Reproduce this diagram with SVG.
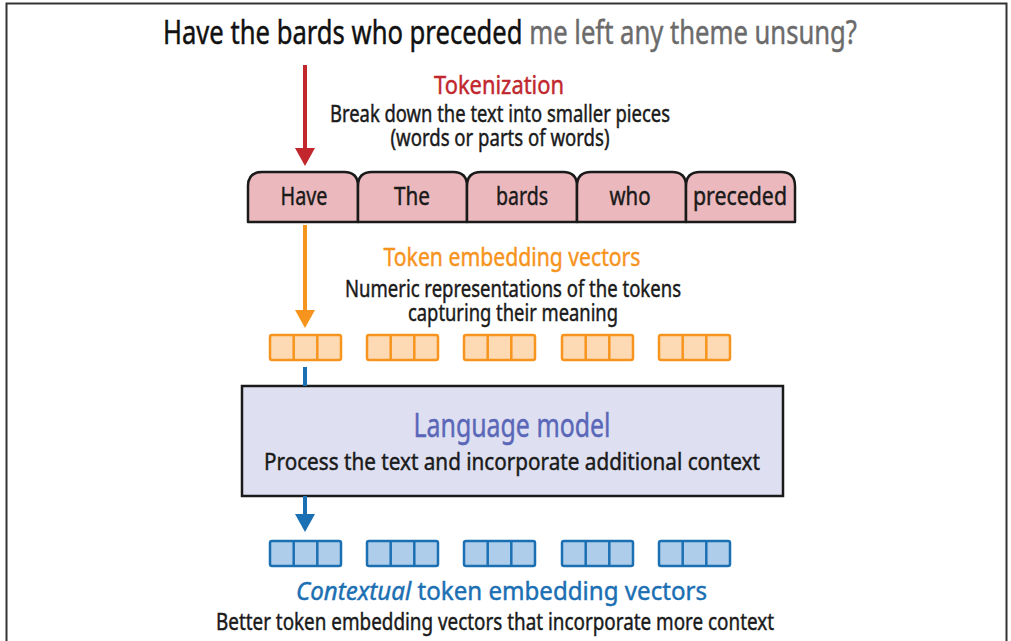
<svg xmlns="http://www.w3.org/2000/svg" width="1011" height="641" viewBox="0 0 1011 641">
<style>
text{font-family:"Noto Sans","Open Sans","Liberation Sans",sans-serif;stroke-width:0.45px;}
.t{font-size:23px;fill:#1a1a1a;stroke:#1a1a1a;text-anchor:middle;}
.tok{font-size:25px;fill:#1a1a1a;stroke:#1a1a1a;text-anchor:middle;}
.tab{fill:#ebb9bd;stroke:#1a1a1a;stroke-width:2.5;stroke-linejoin:round;}
.oc{fill:#fddab3;stroke:#f7941d;stroke-width:2.5;}
.bc{fill:#aecdea;stroke:#1b6fb3;stroke-width:2.5;}
</style>
<defs>
<g id="ovec"><rect class="oc" x="0" y="0" width="71" height="25" rx="2"/><line x1="23.7" y1="0" x2="23.7" y2="25" stroke="#f7941d" stroke-width="2.5"/><line x1="47.3" y1="0" x2="47.3" y2="25" stroke="#f7941d" stroke-width="2.5"/></g>
<g id="bvec"><rect class="bc" x="0" y="0" width="71" height="25" rx="2"/><line x1="23.7" y1="0" x2="23.7" y2="25" stroke="#1b6fb3" stroke-width="2.5"/><line x1="47.3" y1="0" x2="47.3" y2="25" stroke="#1b6fb3" stroke-width="2.5"/></g>
</defs>
<rect x="0" y="0" width="1011" height="641" fill="#ffffff"/>
<rect x="6.5" y="3.5" width="1000" height="700" fill="none" stroke="#333" stroke-width="2"/>

<g id="title">
<text x="163" y="44" font-size="32" fill="#111" stroke="#111" textLength="694" lengthAdjust="spacingAndGlyphs">Have the bards who preceded <tspan fill="#6b6b6b" stroke="#6b6b6b">me left any theme unsung?</tspan></text>
</g>

<g id="tokenization-label">
<text x="499" y="94" font-size="26" fill="#c1272d" stroke="#c1272d" text-anchor="middle" textLength="130" lengthAdjust="spacingAndGlyphs">Tokenization</text>
<text class="t" x="500" y="122" textLength="340" lengthAdjust="spacingAndGlyphs">Break down the text into smaller pieces</text>
<text class="t" x="500" y="146" textLength="219" lengthAdjust="spacingAndGlyphs">(words or parts of words)</text>
</g>

<g id="tokens">
<g id="tok-have"><path class="tab" d="M248 222 V186 Q248 172 262 172 H344 Q358 172 358 186 V222 Z"/><text class="tok" x="304" y="205" textLength="47" lengthAdjust="spacingAndGlyphs">Have</text></g>
<g id="tok-the"><path class="tab" d="M358 222 V186 Q358 172 372 172 H453 Q467 172 467 186 V222 Z"/><text class="tok" x="412" y="205" textLength="36" lengthAdjust="spacingAndGlyphs">The</text></g>
<g id="tok-bards"><path class="tab" d="M467 222 V186 Q467 172 481 172 H563 Q577 172 577 186 V222 Z"/><text class="tok" x="522" y="205" textLength="52" lengthAdjust="spacingAndGlyphs">bards</text></g>
<g id="tok-who"><path class="tab" d="M577 222 V186 Q577 172 591 172 H672 Q686 172 686 186 V222 Z"/><text class="tok" x="630" y="205" textLength="41" lengthAdjust="spacingAndGlyphs">who</text></g>
<g id="tok-preceded"><path class="tab" d="M686 222 V186 Q686 172 700 172 H781 Q795 172 795 186 V222 Z"/><text class="tok" x="740" y="205" textLength="94" lengthAdjust="spacingAndGlyphs">preceded</text></g>
</g>

<g id="embedding-label">
<text x="512" y="266" font-size="26" fill="#f7941d" stroke="#f7941d" text-anchor="middle" textLength="257" lengthAdjust="spacingAndGlyphs">Token embedding vectors</text>
<text class="t" x="513" y="297" textLength="336" lengthAdjust="spacingAndGlyphs">Numeric representations of the tokens</text>
<text class="t" x="513" y="321" textLength="210" lengthAdjust="spacingAndGlyphs">capturing their meaning</text>
</g>

<g id="token-vectors">
<use href="#ovec" x="270" y="335"/>
<use href="#ovec" x="367" y="335"/>
<use href="#ovec" x="464" y="335"/>
<use href="#ovec" x="562" y="335"/>
<use href="#ovec" x="659" y="335"/>
</g>

<g id="language-model">
<rect x="242" y="386" width="541" height="110" fill="#dee0f1" stroke="#1a1a1a" stroke-width="2.5"/>
<text x="512" y="437" font-size="32" fill="#5a67b8" stroke="#5a67b8" text-anchor="middle" textLength="197" lengthAdjust="spacingAndGlyphs">Language model</text>
<text x="512" y="470" font-size="23" fill="#1a1a1a" stroke="#1a1a1a" text-anchor="middle" textLength="496" lengthAdjust="spacingAndGlyphs">Process the text and incorporate additional context</text>
</g>

<g id="contextual-vectors">
<use href="#bvec" x="270" y="541"/>
<use href="#bvec" x="367" y="541"/>
<use href="#bvec" x="464" y="541"/>
<use href="#bvec" x="562" y="541"/>
<use href="#bvec" x="659" y="541"/>
</g>

<g id="contextual-label">
<text x="296" y="600" font-size="26" fill="#1b6fb3" stroke="#1b6fb3" textLength="411" lengthAdjust="spacingAndGlyphs"><tspan font-style="italic">Contextual</tspan> token embedding vectors</text>
<text class="t" x="495" y="630" textLength="558" lengthAdjust="spacingAndGlyphs">Better token embedding vectors that incorporate more context</text>
</g>

<g id="connectors">
<line x1="305" y1="65" x2="305" y2="150" stroke="#c1272d" stroke-width="4"/>
<polygon points="295,148 315,148 305,166" fill="#c1272d"/>
<line x1="305" y1="225" x2="305" y2="312" stroke="#f7941d" stroke-width="4"/>
<polygon points="295,310 315,310 305,328" fill="#f7941d"/>
<line x1="305" y1="367" x2="305" y2="386" stroke="#1b6fb3" stroke-width="4"/>
<line x1="305" y1="496" x2="305" y2="516" stroke="#1b6fb3" stroke-width="4"/>
<polygon points="295,514 315,514 305,532" fill="#1b6fb3"/>
</g>
</svg>
